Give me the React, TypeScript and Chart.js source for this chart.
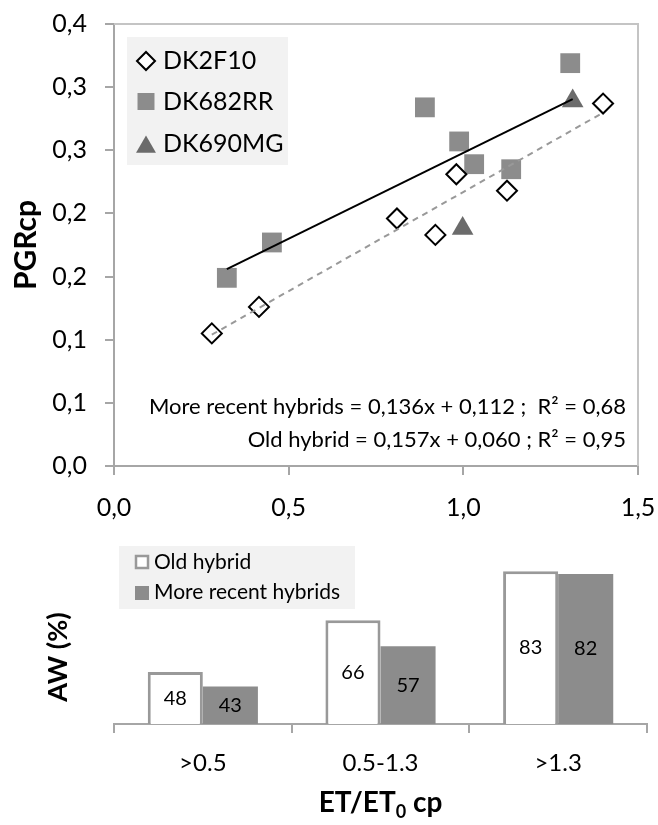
import React, { useEffect, useRef } from 'react';
import { Chart, registerables } from 'chart.js';
import { drawPoint } from 'chart.js/helpers';

Chart.register(...registerables);

const FONT = 'Lato';

// ---- Top scatter: PGRcp vs ET/ET0cp ----
const dk2f10X = [0.28, 0.415, 0.81, 0.92, 0.98, 1.125, 1.4];
const dk2f10Y = [0.105, 0.126, 0.196, 0.183, 0.231, 0.218, 0.287];
const dk682rrX = [0.323, 0.452, 0.89, 0.988, 1.031, 1.137, 1.306];
const dk682rrY = [0.149, 0.177, 0.284, 0.257, 0.239, 0.235, 0.319];
const dk690mgX = [0.998, 1.313];
const dk690mgY = [0.188, 0.289];
const recentFit = [0.136, 0.112]; // slope, intercept
const oldFit = [0.157, 0.06];
const yTickLabels = ['0,0', '0,1', '0,1', '0,2', '0,2', '0,3', '0,3', '0,4'];
const xTickLabels = ['0,0', '0,5', '1,0', '1,5'];
const scatterLegend = ['DK2F10', 'DK682RR', 'DK690MG'];
const equations = [
  'More recent hybrids = 0,136x + 0,112 ;  R² = 0,68',
  'Old hybrid = 0,157x + 0,060 ; R² = 0,95',
];

// ---- Bottom bars: AW (%) by ET/ET0cp class ----
const awCategories = ['>0.5', '0.5-1.3', '>1.3'];
const oldHybridAW = [48, 66, 83];
const recentHybridsAW = [43, 57, 82];
const barLegend = ['Old hybrid', 'More recent hybrids'];

const zip = (xs: number[], ys: number[]) => xs.map((x, i) => ({ x, y: ys[i] }));
const fitLine = (fit: number[], xs: number[]) => {
  const lo = Math.min(...xs);
  const hi = Math.max(...xs);
  return [
    { x: lo, y: fit[0] * lo + fit[1] },
    { x: hi, y: fit[0] * hi + fit[1] },
  ];
};

const AXIS = '#a6a6a6';

const topDecor = {
  id: 'topDecor',
  afterDraw(chart: any) {
    const { ctx, chartArea } = chart;
    ctx.save();
    // top and right border of plot area
    ctx.strokeStyle = '#c4c4c4';
    ctx.lineWidth = 2;
    ctx.beginPath();
    ctx.moveTo(chartArea.left, chartArea.top);
    ctx.lineTo(chartArea.right, chartArea.top);
    ctx.lineTo(chartArea.right, chartArea.bottom);
    ctx.stroke();

    // legend
    ctx.fillStyle = '#f2f2f2';
    ctx.fillRect(127, 37, 161, 128);
    const styles = [
      { pointStyle: 'rectRot', radius: 9, borderWidth: 2, fill: '#ffffff', stroke: '#000000', y: 61 },
      { pointStyle: 'rect', radius: 12, borderWidth: 0, fill: '#8c8c8c', stroke: '#8c8c8c', y: 101.5 },
      { pointStyle: 'triangle', radius: 11.5, borderWidth: 0, fill: '#6b6b6b', stroke: '#6b6b6b', y: 147 },
    ];
    const textY = [61, 101.5, 143.5];
    styles.forEach((s, i) => {
      ctx.fillStyle = s.fill;
      ctx.strokeStyle = s.stroke;
      ctx.lineWidth = s.borderWidth;
      drawPoint(ctx, { pointStyle: s.pointStyle as any, radius: s.radius, borderWidth: s.borderWidth, rotation: 0 }, 146, s.y);
      ctx.fillStyle = '#000';
      ctx.font = `25px ${FONT}`;
      ctx.textAlign = 'left';
      ctx.textBaseline = 'middle';
      ctx.fillText(scatterLegend[i], 163, textY[i]);
    });

    // equations
    ctx.font = `22px ${FONT}`;
    ctx.fillStyle = '#000';
    ctx.textAlign = 'right';
    ctx.textBaseline = 'middle';
    ctx.fillText(equations[0], 626, 407);
    ctx.fillText(equations[1], 626, 440);
    ctx.restore();
  },
};

const botDecor = {
  id: 'botDecor',
  afterDatasetsDraw(chart: any) {
    const { ctx, chartArea } = chart;
    ctx.save();
    // value labels
    ctx.font = `20px ${FONT}`;
    ctx.fillStyle = '#000';
    ctx.textAlign = 'center';
    ctx.textBaseline = 'middle';
    chart.data.datasets.forEach((ds: any, di: number) => {
      const meta = chart.getDatasetMeta(di);
      meta.data.forEach((el: any, i: number) => {
        const { x, y, base } = el.getProps(['x', 'y', 'base'], true);
        const b = Math.min(base, chartArea.bottom);
        ctx.fillText(String(ds.data[i]), x, (y + b) / 2);
      });
    });

    // legend
    ctx.fillStyle = '#f2f2f2';
    ctx.fillRect(119, 16, 236, 63);
    ctx.fillStyle = '#ffffff';
    ctx.strokeStyle = '#999999';
    ctx.lineWidth = 2.5;
    ctx.fillRect(136, 26, 12, 12);
    ctx.strokeRect(136, 26, 12, 12);
    ctx.fillStyle = '#8c8c8c';
    ctx.fillRect(135, 56, 14, 14);
    ctx.fillStyle = '#000';
    ctx.font = `21px ${FONT}`;
    ctx.textAlign = 'left';
    ctx.textBaseline = 'middle';
    ctx.fillText(barLegend[0], 154, 32);
    ctx.fillText(barLegend[1], 154, 62);

    // y title
    ctx.save();
    ctx.translate(58, 127);
    ctx.rotate(-Math.PI / 2);
    ctx.font = `bold 27px ${FONT}`;
    ctx.textAlign = 'center';
    ctx.textBaseline = 'middle';
    ctx.fillText('AW (%)', 0, 0);
    ctx.restore();

    // x title with subscript
    const big = `bold 28px ${FONT}`;
    const small = `bold 18px ${FONT}`;
    ctx.font = big;
    const w1 = ctx.measureText('ET/ET').width;
    const w3 = ctx.measureText(' cp').width;
    ctx.font = small;
    const w2 = ctx.measureText('0').width;
    const cx = (chartArea.left + chartArea.right) / 2;
    let x0 = cx - (w1 + w2 + w3) / 2;
    const base = 282;
    ctx.textAlign = 'left';
    ctx.textBaseline = 'alphabetic';
    ctx.font = big;
    ctx.fillText('ET/ET', x0, base);
    x0 += w1;
    ctx.font = small;
    ctx.fillText('0', x0, base + 6);
    x0 += w2;
    ctx.font = big;
    ctx.fillText(' cp', x0, base);
    ctx.restore();
  },
};

export default function App() {
  const topRef = useRef<HTMLCanvasElement>(null);
  const botRef = useRef<HTMLCanvasElement>(null);

  useEffect(() => {
    Chart.defaults.font.family = FONT;
    const c1 = new Chart(topRef.current!, {
      type: 'scatter',
      data: {
        datasets: [
          {
            type: 'line',
            label: 'recentFit',
            data: fitLine(recentFit, [...dk682rrX, ...dk690mgX]),
            borderColor: '#000',
            borderWidth: 2,
            pointRadius: 0,
            fill: false,
          } as any,
          {
            type: 'line',
            label: 'oldFit',
            data: fitLine(oldFit, dk2f10X),
            borderColor: '#999',
            borderWidth: 2,
            borderDash: [6, 5],
            pointRadius: 0,
            fill: false,
          } as any,
          {
            label: scatterLegend[0],
            data: zip(dk2f10X, dk2f10Y),
            pointStyle: 'rectRot',
            pointRadius: 10,
            backgroundColor: '#ffffff',
            borderColor: '#000000',
            borderWidth: 2,
          },
          {
            label: scatterLegend[1],
            data: zip(dk682rrX, dk682rrY),
            pointStyle: 'rect',
            pointRadius: 14,
            backgroundColor: '#8c8c8c',
            borderWidth: 0,
          },
          {
            label: scatterLegend[2],
            data: zip(dk690mgX, dk690mgY),
            pointStyle: 'triangle',
            pointRadius: 12.5,
            backgroundColor: '#6b6b6b',
            borderWidth: 0,
          },
        ],
      },
      options: {
        animation: false,
        responsive: false,
        events: [],
        layout: { padding: { top: 24, right: 20, left: 0, bottom: 0 } },
        plugins: { legend: { display: false }, tooltip: { enabled: false } },
        scales: {
          x: {
            type: 'linear',
            min: 0,
            max: 1.5,
            ticks: {
              stepSize: 0.5,
              callback: (_v: any, i: number) => xTickLabels[i],
              font: { family: FONT, size: 25 },
              color: '#000',
              padding: 18,
              maxRotation: 0,
            },
            grid: { drawOnChartArea: false, drawTicks: true, tickLength: 9, color: AXIS, lineWidth: 2 },
            border: { color: AXIS, width: 2 },
            afterFit: (s: any) => {
              s.height = 64;
              s.paddingLeft = 0;
              s.paddingRight = 0;
            },
          },
          y: {
            min: 0,
            max: 0.35,
            ticks: {
              stepSize: 0.05,
              callback: (_v: any, i: number) => yTickLabels[i],
              font: { family: FONT, size: 25 },
              color: '#000',
              padding: 18,
            },
            grid: { drawOnChartArea: false, drawTicks: true, tickLength: 9, color: AXIS, lineWidth: 2 },
            border: { color: AXIS, width: 2 },
            title: {
              display: true,
              text: 'PGRcp',
              font: { family: FONT, size: 30, weight: 'bold' },
              color: '#000',
              padding: { top: 8, bottom: 0 },
            },
            afterFit: (s: any) => {
              s.width = 114;
              s.paddingTop = 0;
              s.paddingBottom = 0;
            },
          },
        },
      },
      plugins: [topDecor],
    });

    const c2 = new Chart(botRef.current!, {
      type: 'bar',
      data: {
        labels: awCategories,
        datasets: [
          {
            label: barLegend[0],
            data: oldHybridAW,
            backgroundColor: '#ffffff',
            borderColor: '#999999',
            borderWidth: 3,
            categoryPercentage: 0.62,
            barPercentage: 1,
          },
          {
            label: barLegend[1],
            data: recentHybridsAW,
            backgroundColor: '#8c8c8c',
            borderWidth: 0,
            categoryPercentage: 0.62,
            barPercentage: 1,
          },
        ],
      },
      options: {
        animation: false,
        responsive: false,
        events: [],
        layout: { padding: { top: 21, right: 11, left: 114, bottom: 0 } },
        plugins: { legend: { display: false }, tooltip: { enabled: false } },
        scales: {
          x: {
            ticks: { font: { family: FONT, size: 24 }, color: '#000', padding: 16 },
            grid: { offset: true, drawOnChartArea: false, drawTicks: true, tickLength: 9, color: AXIS, lineWidth: 2 },
            border: { color: AXIS, width: 2 },
            afterFit: (s: any) => {
              s.height = 101;
              s.paddingLeft = 0;
              s.paddingRight = 0;
            },
          },
          y: { display: false, min: 30, max: 90 },
        },
      },
      plugins: [botDecor],
    });

    return () => {
      c1.destroy();
      c2.destroy();
    };
  }, []);

  return (
    <div style={{ position: 'absolute', left: 0, top: 0, width: 658, height: 825, background: '#fff' }}>
      <canvas ref={topRef} width={658} height={530} style={{ position: 'absolute', left: 0, top: 0, width: 658, height: 530 }} />
      <canvas ref={botRef} width={658} height={295} style={{ position: 'absolute', left: 0, top: 530, width: 658, height: 295 }} />
    </div>
  );
}
